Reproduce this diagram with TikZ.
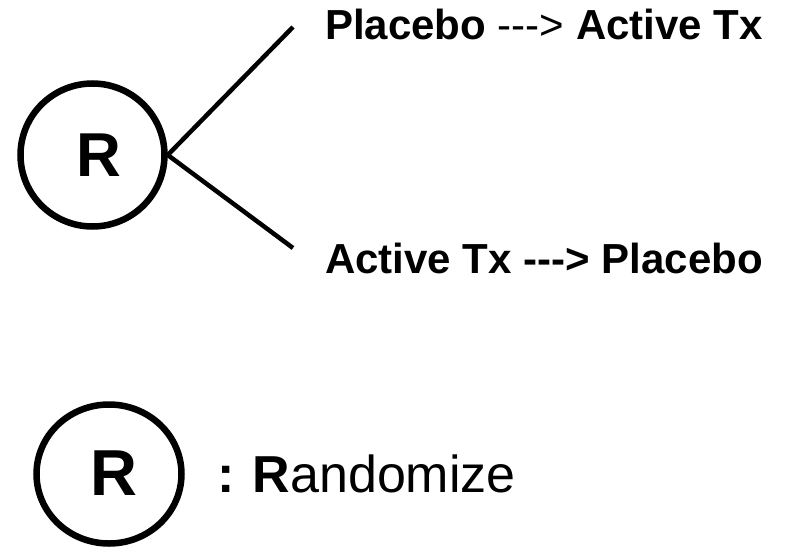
\documentclass[tikz,border=0pt]{standalone}
\usepackage{fontspec}
\setmainfont{Liberation Sans}
\usetikzlibrary{shapes.geometric}
% three separate hyphens and a '>' (no en/em dash ligature)
\newcommand{\dasharrow}{\mbox{-}\mbox{-}\mbox{-}\mbox{>}}
\begin{document}
\begin{tikzpicture}[x=1pt,y=1pt,
  ring/.style={draw=black,line width=6.5pt,ellipse,inner sep=0pt},
  branch/.style={line width=4.5pt,draw=black},
  arm/.style={anchor=base west,inner sep=0pt,font=\fontsize{42}{50}\selectfont}]
\useasboundingbox (0,0) rectangle (786,550);
% randomisation node with its two arms
\node[ring,minimum width=144pt,minimum height=143pt] (rand) at (92.5,395) {};
\node[inner sep=0pt,font=\fontsize{62}{70}\selectfont\bfseries] (randlbl) at (99,395) {R};
\coordinate (armA) at (293,523);
\coordinate (armB) at (293,302);
\draw[branch] (rand.east) -- (armA);
\draw[branch] (rand.east) -- (armB);
\node[arm] (seqA) at (325,510) {\textbf{Placebo} \dasharrow{} \textbf{Active Tx}};
\node[arm] (seqB) at (325,277) {\textbf{Active Tx \dasharrow{} Placebo}};
% legend
\node[ring,minimum width=145pt,minimum height=139pt] (legR) at (109,76) {};
\node[inner sep=0pt,font=\fontsize{65}{72}\selectfont\bfseries] (legRlbl) at (114,76.5) {R};
\node[anchor=base west,inner sep=0pt,font=\fontsize{52}{60}\selectfont] (legtxt) at (217,58) {\textbf{:}\hspace{-1pt} \textbf{R}andomize};
\end{tikzpicture}
\end{document}
